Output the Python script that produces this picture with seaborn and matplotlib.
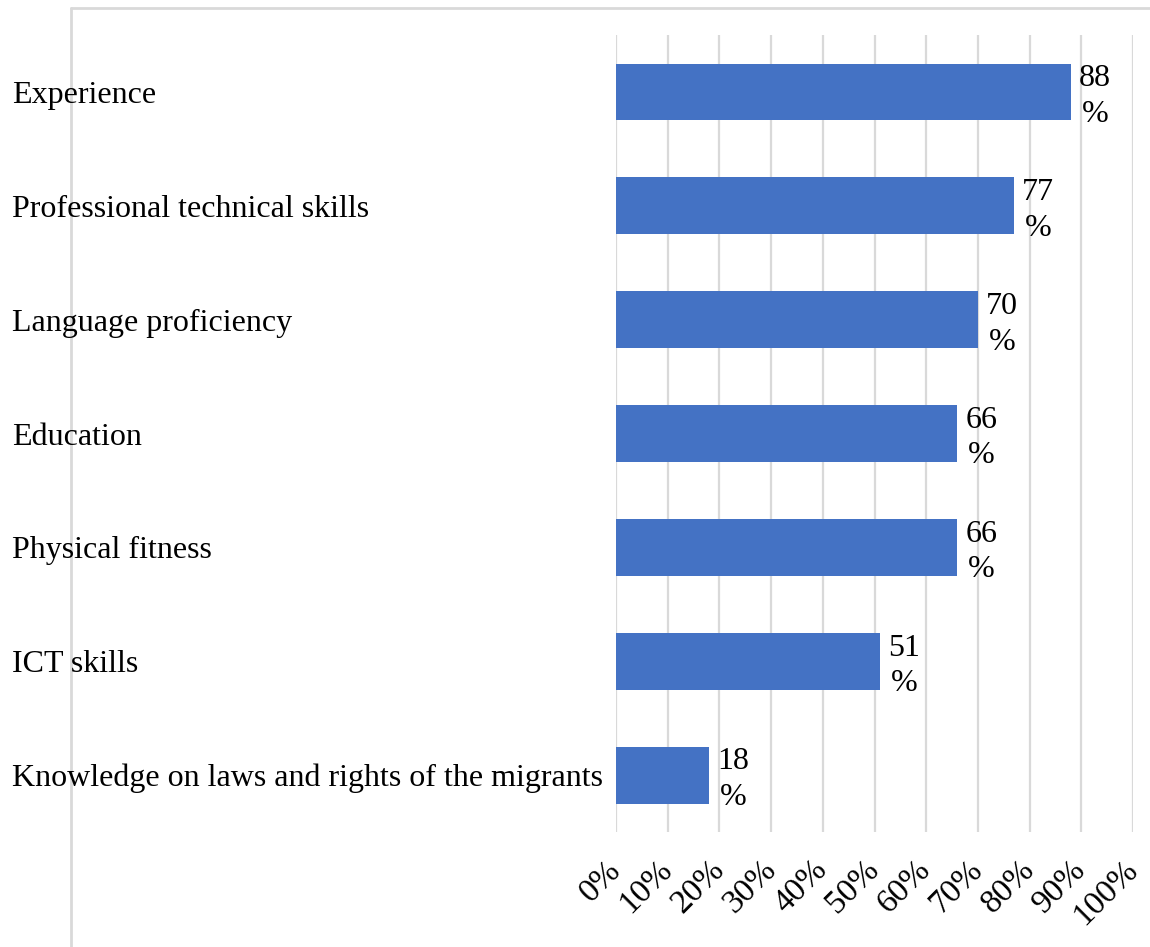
import matplotlib
matplotlib.use("Agg")
import matplotlib.pyplot as plt
import seaborn as sns
import pandas as pd
from matplotlib.lines import Line2D

categories = [
    "Experience",
    "Professional technical skills",
    "Language proficiency",
    "Education",
    "Physical fitness",
    "ICT skills",
    "Knowledge on laws and rights of the migrants",
]
values = [88, 77, 70, 66, 66, 51, 18]
tick_values = [0, 10, 20, 30, 40, 50, 60, 70, 80, 90, 100]
tick_labels = [f"{v}%" for v in tick_values]

df = pd.DataFrame({"skill": categories, "share": values})

sns.set_theme(style="white")
plt.rcParams["font.family"] = ["Liberation Serif", "DejaVu Serif"]
plt.rcParams["text.color"] = "black"
plt.rcParams["xtick.color"] = "black"
plt.rcParams["ytick.color"] = "black"

fig = plt.figure(figsize=(11.5, 9.47), dpi=100)
ax = fig.add_axes([0.5357, 0.1214, 0.4495, 0.8416])

sns.barplot(data=df, x="share", y="skill", orient="h", color="#4472C4",
            saturation=1, width=0.5, linewidth=0, ax=ax, zorder=3)

ax.set_xlim(0, 100)
ax.set_ylim(len(categories) - 0.5, -0.5)
ax.set_xticks(tick_values)
ax.set_xticklabels(tick_labels, rotation=45, ha="right", va="center",
                   rotation_mode="anchor", fontsize=24)
ax.tick_params(axis="x", length=0, pad=24)
ax.tick_params(axis="y", length=0, pad=0, labelsize=23)
for lab in ax.get_yticklabels():
    lab.set_horizontalalignment("left")
    lab.set_x(-604 / (1133 - 616))  # left-aligned labels
ax.set_xlabel("")
ax.set_ylabel("")

ax.grid(axis="x", color="#d9d9d9", linewidth=1.6, zorder=0)
ax.grid(axis="y", visible=False)
for s in ax.spines.values():
    s.set_visible(False)

for i, v in enumerate(values):
    ax.text(v + 1.6, i + 0.04, f"{v}\n%", ha="left", va="center",
            multialignment="center", fontsize=23, linespacing=1.3,
            color="black", zorder=4)

# outer chart-area frame, kept behind the labels
fig.add_artist(Line2D([71 / 1150, 71 / 1150], [0, 1 - 8 / 947],
                      color="#d9d9d9", linewidth=2, zorder=-1,
                      transform=fig.transFigure))
fig.add_artist(Line2D([71 / 1150, 1], [1 - 8 / 947, 1 - 8 / 947],
                      color="#d9d9d9", linewidth=2, zorder=-1,
                      transform=fig.transFigure))

fig.savefig("out.png", dpi=100, facecolor="white")
